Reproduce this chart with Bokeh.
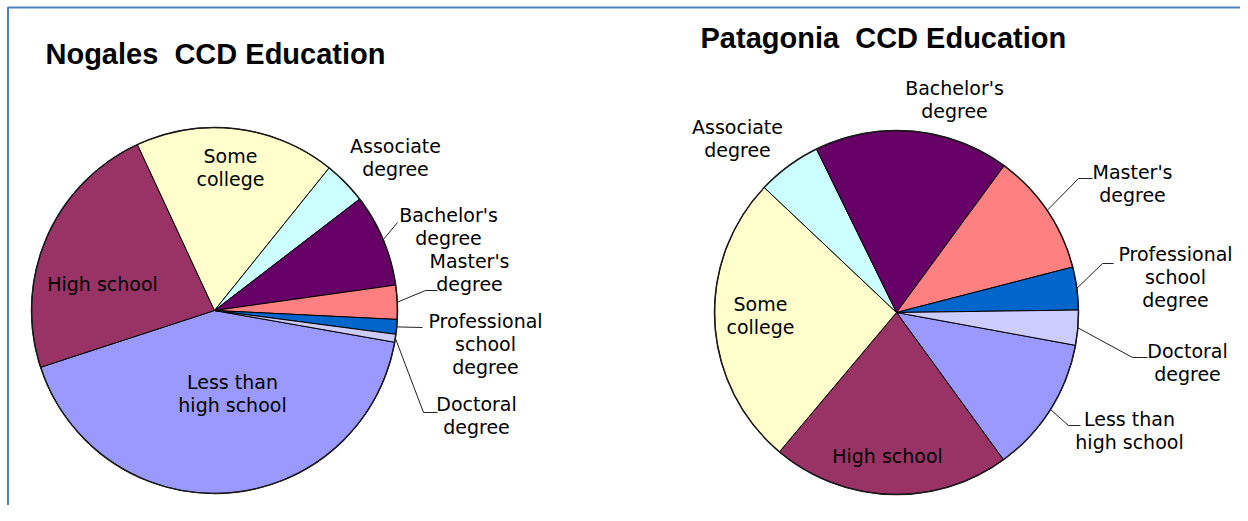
import math
from bokeh.plotting import figure
from bokeh.models import Range1d, ColumnDataSource
from bokeh.embed import file_html
from bokeh.resources import INLINE
from bokeh.core.properties import value

# ---------------- data ----------------
categories = [
    "Less than\nhigh school",
    "High school",
    "Some\ncollege",
    "Associate\ndegree",
    "Bachelor's\ndegree",
    "Master's\ndegree",
    "Professional\nschool\ndegree",
    "Doctoral\ndegree",
]
nogales_pct = [42.2, 23.1, 17.7, 3.8, 8.2, 3.0, 1.3, 0.7]
patagonia_pct = [12.1, 21.1, 25.9, 5.7, 17.3, 10.9, 3.8, 3.1]
slice_colors = ["#9999FF", "#993366", "#FFFFCC", "#CCFFFF",
                "#660066", "#FF8080", "#0066CC", "#CCCCFF"]
titles = ["Nogales\u00a0 CCD Education", "Patagonia\u00a0 CCD Education"]

# ---------------- layout (screen pixels, origin = top-left of figure) ----------------
W, H = 1240, 505
LABEL_SIZE = 19
TITLE_SIZE = 29
LABEL_NUDGE = 7     # renderer places text lower than the alphabetic baseline
TITLE_NUDGE = 10


def Y(ys):
    return H - ys


charts = [
    dict(values=nogales_pct, title=titles[0], cx=214, cy=310, r=183, first=-10.0,
         title_xy=(45, 63),
         labels=[(232, 388), (102, 290), (230, 162), (395, 152), (448, 221),
                 (469, 267), (485, 327), (476, 410)],
         leaders=[None, None, None, None, [(397, 222)],
                  [(425, 290), (437, 290)], [(422, 327)],
                  [(423, 412), (437, 412)]]),
    dict(values=patagonia_pct, title=titles[1], cx=896, cy=312, r=182, first=-10.4,
         title_xy=(700, 47),
         labels=[(1129, 425), (887, 462), (760, 310), (737, 133), (954, 94),
                 (1132, 178), (1175, 260), (1187, 357)],
         leaders=[[(1068, 425), (1080, 425)], None, None, None, None,
                  [(1078, 178), (1092, 178)], [(1102, 263), (1113, 263)],
                  [(1132, 357), (1147, 357)]]),
]

LINE_STEP = 23

p = figure(width=W, height=H, x_range=Range1d(0, W), y_range=Range1d(0, H),
           output_backend="svg", toolbar_location=None, min_border=0,
           x_axis_location=None, y_axis_location=None)
p.xgrid.visible = False
p.ygrid.visible = False
p.outline_line_color = None
p.background_fill_color = "white"
p.border_fill_color = "white"

# blue frame (top and left edges visible)
p.line(x=[7.5, 7.5, W], y=[Y(H), Y(7), Y(7)], line_color="#4F81BD", line_width=2)

for ch in charts:
    vals = ch["values"]
    total = float(sum(vals))
    starts, ends, mids = [], [], []
    a = ch["first"]
    for v in vals:
        span = v / total * 360.0
        starts.append(math.radians(a))
        ends.append(math.radians(a - span))
        mids.append(a - span / 2.0)
        a -= span
    n = len(vals)
    src = ColumnDataSource(dict(
        x=[ch["cx"]] * n, y=[Y(ch["cy"])] * n,
        start=starts, end=ends, color=slice_colors, cat=categories))
    p.wedge(x="x", y="y", radius=ch["r"], start_angle="start", end_angle="end",
            direction="clock", fill_color="color", line_color="#000000",
            line_width=1, source=src)
    # darker outer rim
    p.circle(x=[ch["cx"]], y=[Y(ch["cy"])], radius=ch["r"], fill_color=None,
             line_color="#1a1a1a", line_width=1.5)

    # leader lines
    for i, pts in enumerate(ch["leaders"]):
        if not pts:
            continue
        am = math.radians(mids[i])
        rx = ch["cx"] + ch["r"] * math.cos(am)
        ry = ch["cy"] - ch["r"] * math.sin(am)
        xs = [rx] + [q[0] for q in pts]
        ys = [Y(ry)] + [Y(q[1]) for q in pts]
        p.line(x=xs, y=ys, line_color="#222222", line_width=1)

    # labels
    tx, ty, tt = [], [], []
    for cat, (lx, ly) in zip(categories, ch["labels"]):
        for k, line in enumerate(cat.split("\n")):
            tx.append(lx)
            ty.append(Y(ly + k * LINE_STEP - LABEL_NUDGE))
            tt.append(line)
    p.text(x=tx, y=ty, text=tt, text_font=value("DejaVu Sans"),
           text_font_size=f"{LABEL_SIZE}px", text_align="center",
           text_baseline="alphabetic", text_color="#000000")

    # title
    p.text(x=[ch["title_xy"][0]], y=[Y(ch["title_xy"][1] - TITLE_NUDGE)], text=[ch["title"]],
           text_font=value("Liberation Sans"), text_font_style="bold",
           text_font_size=f"{TITLE_SIZE}px", text_align="left", text_baseline="alphabetic",
           text_color="#000000")

open("out.html", "w").write(file_html(p, INLINE))
